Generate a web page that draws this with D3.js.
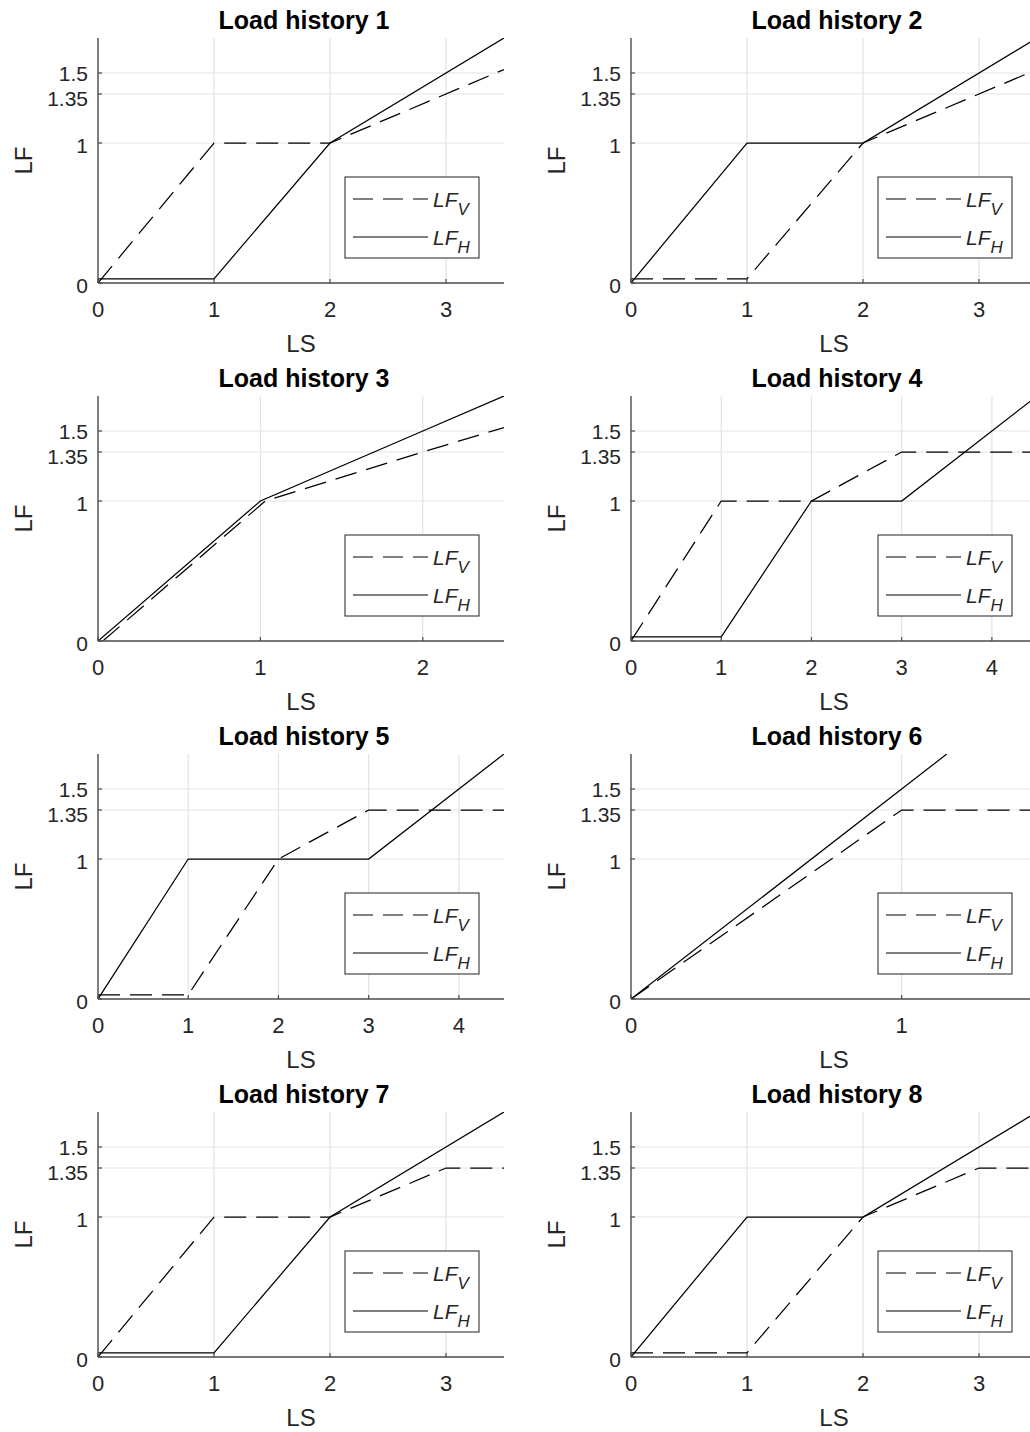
<!DOCTYPE html>
<html><head><meta charset="utf-8">
<script src="https://cdn.jsdelivr.net/npm/d3@7"></script>
<style>body{margin:0;background:#fff;overflow:hidden} svg{display:block}</style>
</head><body><svg id="c" width="1030" height="1432"></svg>
<script>
// ---------- data ----------
const titles = ["Load history 1","Load history 2","Load history 3","Load history 4",
                "Load history 5","Load history 6","Load history 7","Load history 8"];
const xMaxes = [3.5, 3.5, 2.5, 4.5, 4.5, 1.5, 3.5, 3.5];
const xTickSets = [[0,1,2,3],[0,1,2,3],[0,1,2],[0,1,2,3,4],[0,1,2,3,4],[0,1],[0,1,2,3],[0,1,2,3]];
const yTicks = [0, 1, 1.35, 1.5];
const yTickLabels = ["0", "1", "1.35", "1.5"];
const yMax = 1.75;
const xLabel = "LS", yLabel = "LF";

// LF_V (dashed) and LF_H (solid) per panel, points are [LS, LF]
const lfV1 = [[0,0],[1,1],[2,1],[3.5,1.525]];
const lfH1 = [[0,0.03],[1,0.03],[2,1],[3.5,1.75]];
const lfV2 = [[0,0.03],[1,0.03],[2,1],[3.5,1.525]];
const lfH2 = [[0,0],[1,1],[2,1],[3.5,1.75]];
const lfV3 = [[0.03,0],[1.03,1],[2,1.35],[2.5,1.525]];
const lfH3 = [[0,0],[1,1],[2,1.5],[2.5,1.75]];
const lfV4 = [[0,0],[1,1],[2,1],[3,1.35],[4.5,1.35]];
const lfH4 = [[0,0.03],[1,0.03],[2,1],[3,1],[4.5,1.75]];
const lfV5 = [[0,0.03],[1,0.03],[2,1],[3,1.35],[4.5,1.35]];
const lfH5 = [[0,0],[1,1],[2,1],[3,1],[4.5,1.75]];
const lfV6 = [[0,0],[1,1.35],[1.5,1.35]];
const lfH6 = [[0,0],[1,1.5],[1.1667,1.75]];
const lfV7 = [[0,0],[1,1],[2,1],[3,1.35],[3.5,1.35]];
const lfH7 = [[0,0.03],[1,0.03],[2,1],[3.5,1.75]];
const lfV8 = [[0,0.03],[1,0.03],[2,1],[3,1.35],[3.5,1.35]];
const lfH8 = [[0,0],[1,1],[2,1],[3.5,1.75]];
const seriesV = [lfV1,lfV2,lfV3,lfV4,lfV5,lfV6,lfV7,lfV8];
const seriesH = [lfH1,lfH2,lfH3,lfH4,lfH5,lfH6,lfH7,lfH8];

// ---------- layout ----------
const colX = [98, 631], plotW = 406;
const rowY = [38, 396, 754, 1112], plotH = 245;
const FONT = "'Liberation Sans', Arial, Helvetica, sans-serif";
const TXT = "#262626", AX = "#4a4a4a", GRID = "#e3e3e3";
const yLabelNudge = [10, 10, 11.5, 7.5];

const svg = d3.select("#c");
svg.append("rect").attr("width",1030).attr("height",1432).attr("fill","#fff");

titles.forEach((title, i) => {
  const left = colX[i % 2], top = rowY[Math.floor(i / 2)];
  const x = d3.scaleLinear().domain([0, xMaxes[i]]).range([left, left + plotW]);
  const y = d3.scaleLinear().domain([0, yMax]).range([top + plotH, top]);
  const g = svg.append("g");
  const bottom = top + plotH;

  // grid
  g.selectAll(".gx").data(xTickSets[i].filter(d => d > 0)).enter().append("line")
    .attr("x1", d => x(d)).attr("x2", d => x(d)).attr("y1", top).attr("y2", bottom)
    .attr("stroke", GRID).attr("stroke-width", 1.2);
  g.selectAll(".gy").data(yTicks.filter(d => d > 0)).enter().append("line")
    .attr("x1", left).attr("x2", left + plotW).attr("y1", d => y(d)).attr("y2", d => y(d))
    .attr("stroke", GRID).attr("stroke-width", 1.2);

  // clip
  const cid = "clip" + i;
  svg.append("clipPath").attr("id", cid).append("rect")
    .attr("x", left).attr("y", top).attr("width", plotW).attr("height", plotH);

  const line = d3.line().x(d => x(d[0])).y(d => y(d[1]));
  const lg = g.append("g").attr("clip-path", `url(#${cid})`);
  lg.append("path").attr("d", line(seriesV[i])).attr("fill","none")
    .attr("stroke","#000").attr("stroke-width",1.25).attr("stroke-dasharray","22,10");
  lg.append("path").attr("d", line(seriesH[i])).attr("fill","none")
    .attr("stroke","#000").attr("stroke-width",1.25);

  // axes lines
  g.append("line").attr("x1", left).attr("x2", left).attr("y1", top).attr("y2", bottom)
    .attr("stroke", AX).attr("stroke-width", 1.4);
  g.append("line").attr("x1", left).attr("x2", left + plotW).attr("y1", bottom).attr("y2", bottom)
    .attr("stroke", AX).attr("stroke-width", 1.4);

  // ticks
  xTickSets[i].forEach(t => {
    g.append("line").attr("x1", x(t)).attr("x2", x(t)).attr("y1", bottom).attr("y2", bottom - 4)
      .attr("stroke", AX).attr("stroke-width", 1.2);
    g.append("text").attr("x", x(t)).attr("y", bottom + 34).attr("text-anchor","middle")
      .attr("font-family", FONT).attr("font-size", 22).attr("fill", TXT).text(t);
  });
  yTicks.forEach((t, k) => {
    g.append("line").attr("x1", left).attr("x2", left + 4).attr("y1", y(t)).attr("y2", y(t))
      .attr("stroke", AX).attr("stroke-width", 1.2);
    g.append("text").attr("x", left - 10).attr("y", y(t) + yLabelNudge[k]).attr("text-anchor","end")
      .attr("font-family", FONT).attr("font-size", 21).attr("fill", TXT).text(yTickLabels[k]);
  });

  // labels
  g.append("text").attr("x", left + plotW / 2).attr("y", bottom + 69).attr("text-anchor","middle")
    .attr("font-family", FONT).attr("font-size", 24).attr("fill", TXT).text(xLabel);
  g.append("text").attr("transform", `translate(${left - 66},${top + plotH / 2}) rotate(-90)`)
    .attr("text-anchor","middle").attr("font-family", FONT).attr("font-size", 24)
    .attr("fill", TXT).text(yLabel);
  g.append("text").attr("x", left + plotW / 2 + 3).attr("y", top - 9).attr("text-anchor","middle")
    .attr("font-family", FONT).attr("font-size", 25).attr("font-weight","bold")
    .attr("fill", "#000").text(title);

  // legend
  const bx = left + plotW - 159, by = bottom - 106, bw = 134, bh = 81;
  g.append("rect").attr("x", bx).attr("y", by).attr("width", bw).attr("height", bh)
    .attr("fill", "#fff").attr("stroke", "#333").attr("stroke-width", 1.1);
  const entries = [{sub:"V", dash:"20,10", dy:22}, {sub:"H", dash:null, dy:60}];
  entries.forEach(e => {
    const ly = by + e.dy;
    const l = g.append("line").attr("x1", bx + 8).attr("x2", bx + 83).attr("y1", ly).attr("y2", ly)
      .attr("stroke", "#000").attr("stroke-width", 1.2);
    if (e.dash) l.attr("stroke-dasharray", e.dash);
    const t = g.append("text").attr("x", bx + 88).attr("y", ly + 7.5)
      .attr("font-family", FONT).attr("font-size", 21).attr("font-style","italic").attr("fill", TXT);
    t.append("tspan").text("LF");
    t.append("tspan").attr("dy", 8).attr("font-size", 17).text(e.sub);
  });
});
</script></body></html>
